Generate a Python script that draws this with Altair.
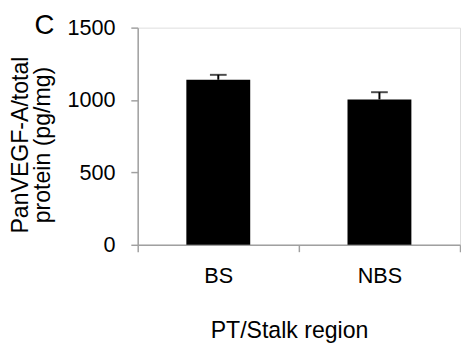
import altair as alt
import pandas as pd

categories = ["BS", "NBS"]
values = [1140, 1004]
errors = [34, 50]
y_ticks = [0, 500, 1000, 1500]
panel_label = ["C"]

df = pd.DataFrame({
    "region": categories,
    "value": values,
    "upper": [v + e for v, e in zip(values, errors)],
})

FONT = "Liberation Sans"
GRAY = "#a0a0a0"

x_enc = alt.X(
    "region:N",
    sort=categories,
    scale=alt.Scale(paddingInner=0, paddingOuter=0),
    axis=alt.Axis(
        title="PT/Stalk region",
        labelAngle=0,
        tickBand="extent",
        tickSize=7,
        tickColor=GRAY,
        domainColor=GRAY,
        domainWidth=1.5,
        tickWidth=1.5,
        labelFontSize=22,
        labelFont=FONT,
        labelColor="black",
        labelPadding=14,
        titleFontSize=23.5,
        titleFont=FONT,
        titleFontWeight="normal",
        titleColor="black",
        titleX=154,
        titleY=94,
        titleBaseline="alphabetic",
    ),
)

y_scale = alt.Scale(domain=[0, 1500], nice=False, zero=True)
y_axis = alt.Axis(
    title=["PanVEGF-A/total", "protein (pg/mg)"],
    values=y_ticks,
    format="d",
    grid=False,
    tickSize=7,
    tickColor=GRAY,
    domainColor=GRAY,
    domainWidth=1.5,
    tickWidth=1.5,
    labelFontSize=22,
    labelFont=FONT,
    labelColor="black",
    labelPadding=16,
    titleFontSize=23.5,
    titleFont=FONT,
    titleFontWeight="normal",
    titleColor="black",
    titleAngle=270,
    titleX=-112,
    titleY=119,
    titleAlign="center",
    titleBaseline="alphabetic",
    titleLineHeight=22,
)

base = alt.Chart(df)

bars = base.mark_bar(size=65, color="black").encode(
    x=x_enc,
    y=alt.Y("value:Q", scale=y_scale, axis=y_axis),
)

err = base.mark_rule(color="black", strokeWidth=2).encode(
    x=alt.X("region:N", sort=categories),
    y="value:Q",
    y2="upper:Q",
)

cap = base.mark_tick(color="black", size=17, thickness=2).encode(
    x=alt.X("region:N", sort=categories),
    y="upper:Q",
)

label = alt.Chart(pd.DataFrame({"t": panel_label})).mark_text(
    fontSize=28, font=FONT, align="left", baseline="alphabetic", color="black"
).encode(
    x=alt.value(-105),
    y=alt.value(6),
    text="t:N",
)

chart = alt.layer(bars, err, cap, label).properties(
    width=328,
    height=221,
    autosize=alt.AutoSizeParams(type="none"),
    padding={"left": 132, "top": 17, "right": 1, "bottom": 100},
).configure_view(stroke=None).configure(background="white")

chart.save("out.html", embed_options={"renderer": "svg", "actions": False})
